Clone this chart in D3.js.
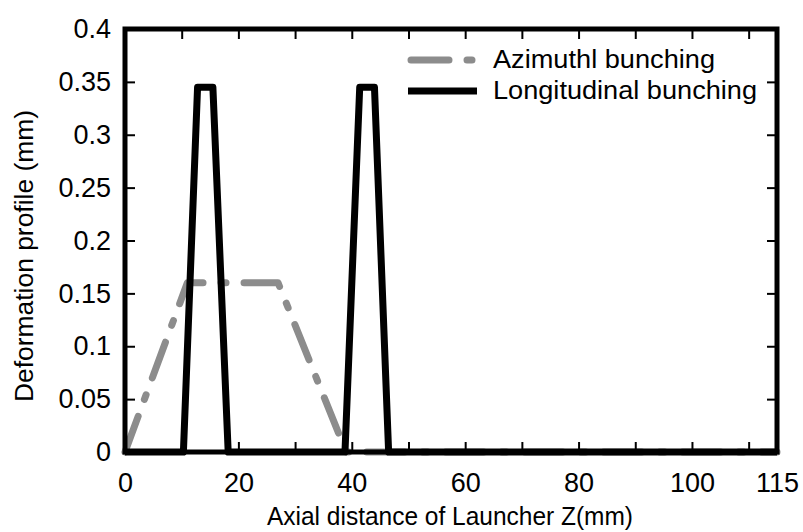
<!DOCTYPE html>
<html>
<head>
<meta charset="utf-8">
<script src="https://cdn.jsdelivr.net/npm/d3@7"></script>
<style>
  body { margin: 0; background: #fff; }
  svg text { font-family: "Liberation Sans", Arial, sans-serif; fill: #000; }
</style>
</head>
<body>
<svg id="chart" width="803" height="532"></svg>
<script>
// axial distance (mm) / deformation (mm)
var azimuthalZ = [0, 11, 27, 39, 115];
var azimuthalD = [0, 0.16, 0.16, 0, 0];
var longitudinalZ = [0, 10.3, 12.8, 15.5, 18.2, 38.8, 41.4, 44.0, 46.5, 115];
var longitudinalD = [0, 0, 0.345, 0.345, 0, 0, 0.345, 0.345, 0, 0];

var xTicks = [0, 10, 20, 30, 40, 50, 60, 70, 80, 90, 100, 110, 115];
var xLabels = [0, 20, 40, 60, 80, 100, 115];
var yTicks = [0, 0.05, 0.1, 0.15, 0.2, 0.25, 0.3, 0.35, 0.4];

var seriesNames = ['Azimuthl bunching', 'Longitudinal bunching'];

var svg = d3.select('#chart');
var plotLeft = 125, plotRight = 777, plotTop = 29, plotBottom = 452;

var x = d3.scaleLinear().domain([0, 115]).range([plotLeft, plotRight]);
var y = d3.scaleLinear().domain([0, 0.4]).range([plotBottom, plotTop]);

var line = d3.line()
    .x(function(d) { return x(d[0]); })
    .y(function(d) { return y(d[1]); });

var azimuthal = d3.zip(azimuthalZ, azimuthalD);
var longitudinal = d3.zip(longitudinalZ, longitudinalD);

var dashes = '38,18,5,18';

svg.append('path')
    .datum(azimuthal)
    .attr('d', line)
    .attr('fill', 'none')
    .attr('stroke', '#8c8c8c')
    .attr('stroke-width', 7)
    .attr('stroke-linecap', 'round')
    .attr('stroke-linejoin', 'round')
    .attr('stroke-dasharray', dashes);

svg.append('path')
    .datum(longitudinal)
    .attr('d', line)
    .attr('fill', 'none')
    .attr('stroke', '#000')
    .attr('stroke-width', 7)
    .attr('stroke-linejoin', 'round');

// axes: ticks point inwards on all four sides
function styleAxis(g) {
  g.select('.domain').remove();
  g.selectAll('.tick line').attr('stroke', '#000').attr('stroke-width', 2);
  g.selectAll('.tick text').attr('font-size', 27).attr('fill', '#000');
}

var labelFmt = function(d) { return xLabels.indexOf(d) >= 0 ? d : ''; };

svg.append('g')
    .attr('transform', 'translate(0,' + plotBottom + ')')
    .call(d3.axisBottom(x).tickValues(xTicks).tickSize(-10).tickPadding(21).tickFormat(labelFmt))
    .call(styleAxis);

svg.append('g')
    .attr('transform', 'translate(0,' + plotTop + ')')
    .call(d3.axisTop(x).tickValues(xTicks).tickSize(-10).tickFormat(''))
    .call(styleAxis);

svg.append('g')
    .attr('transform', 'translate(' + plotLeft + ',0)')
    .call(d3.axisLeft(y).tickValues(yTicks).tickSize(-10).tickPadding(14).tickFormat(d3.format('~g')))
    .call(styleAxis);

svg.append('g')
    .attr('transform', 'translate(' + plotRight + ',0)')
    .call(d3.axisRight(y).tickValues(yTicks).tickSize(-10).tickFormat(''))
    .call(styleAxis);

svg.append('rect')
    .attr('x', plotLeft)
    .attr('y', plotTop)
    .attr('width', plotRight - plotLeft)
    .attr('height', plotBottom - plotTop)
    .attr('fill', 'none')
    .attr('stroke', '#000')
    .attr('stroke-width', 5);

// titles
svg.append('text')
    .attr('x', 267)
    .attr('y', 525)
    .attr('font-size', 25)
    .attr('textLength', 366)
    .attr('lengthAdjust', 'spacingAndGlyphs')
    .text('Axial distance of Launcher Z(mm)');

svg.append('text')
    .attr('transform', 'translate(33,402) rotate(-90)')
    .attr('font-size', 26)
    .attr('textLength', 292)
    .attr('lengthAdjust', 'spacingAndGlyphs')
    .text('Deformation profile (mm)');

// legend
var legend = svg.append('g');
var legendRows = [
  { name: seriesNames[0], y: 60, color: '#8c8c8c', dash: dashes, cap: 'round', width: 222 },
  { name: seriesNames[1], y: 91, color: '#000', dash: null, cap: 'butt', width: 264 }
];

legendRows.forEach(function(row) {
  legend.append('line')
      .attr('x1', row.cap === 'round' ? 411 : 408)
      .attr('x2', row.cap === 'round' ? 474 : 477)
      .attr('y1', row.y)
      .attr('y2', row.y)
      .attr('stroke', row.color)
      .attr('stroke-width', 7)
      .attr('stroke-linecap', row.cap)
      .attr('stroke-dasharray', row.dash);

  legend.append('text')
      .attr('x', 493)
      .attr('y', row.y + 8)
      .attr('font-size', 26)
      .attr('textLength', row.width)
      .attr('lengthAdjust', 'spacingAndGlyphs')
      .text(row.name);
});
</script>
</body>
</html>
